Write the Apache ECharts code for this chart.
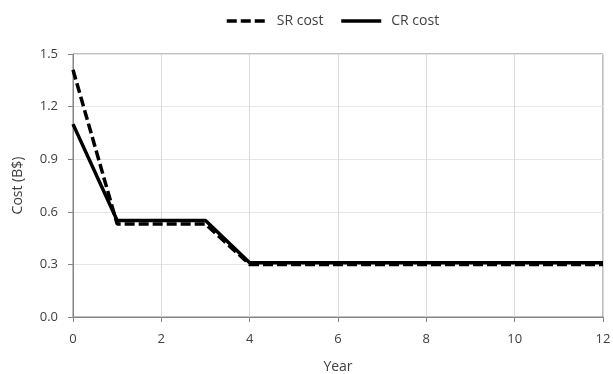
<!DOCTYPE html>
<html>
<head>
<meta charset="utf-8">
<script src="https://cdn.jsdelivr.net/npm/echarts@6/dist/echarts.min.js"></script>
<style>
  html, body { margin: 0; padding: 0; background: #fff; }
  #chart { width: 613px; height: 374px; }
</style>
</head>
<body>
<div id="chart"></div>
<script>
// Annual cost by year, billions of dollars
const years = [0, 1, 2, 3, 4, 5, 6, 7, 8, 9, 10, 11, 12];
const srCost = [1.41, 0.53, 0.53, 0.53, 0.30, 0.30, 0.30, 0.30, 0.30, 0.30, 0.30, 0.30, 0.30];
const crCost = [1.10, 0.55, 0.55, 0.55, 0.31, 0.31, 0.31, 0.31, 0.31, 0.31, 0.31, 0.31, 0.31];
const seriesNames = ['SR cost', 'CR cost'];

const font = 'Open Sans, Liberation Sans, sans-serif';
const pairs = arr => years.map((y, i) => [y, arr[i]]);

const chart = echarts.init(document.getElementById('chart'), null, { renderer: 'canvas' });
chart.setOption({
  animation: false,
  backgroundColor: '#ffffff',
  legend: {
    top: 9,
    left: 220,
    itemWidth: 40,
    itemHeight: 12,
    itemGap: 16,
    itemStyle: { opacity: 0 },
    lineStyle: { width: 3.5 },
    textStyle: { fontFamily: font, fontSize: 14, color: '#404040', padding: [0, 0, 0, 5] },
    data: seriesNames
  },
  grid: {
    left: 73, right: 10, top: 54, bottom: 57,
    outerBoundsMode: 'none',
    containLabel: false,
    show: true, borderColor: '#7f7f7f', borderWidth: 1
  },
  xAxis: {
    type: 'value',
    min: 0, max: 12, interval: 2,
    name: 'Year',
    nameLocation: 'middle',
    nameGap: 43,
    nameTextStyle: { fontFamily: font, fontSize: 14, color: '#404040' },
    axisLine: { lineStyle: { color: '#868686' } },
    axisTick: { show: true, inside: false, length: 5, lineStyle: { color: '#868686' } },
    axisLabel: { fontFamily: font, fontSize: 13, color: '#404040', margin: 16 },
    splitLine: { show: true, lineStyle: { color: '#d9d9d9' } }
  },
  yAxis: {
    type: 'value',
    min: 0, max: 1.5, interval: 0.3,
    name: 'Cost (B$)',
    nameLocation: 'middle',
    nameGap: 48,
    nameTextStyle: { fontFamily: font, fontSize: 14, color: '#404040' },
    axisLine: { show: true, lineStyle: { color: '#868686' } },
    axisTick: { show: true, inside: false, length: 5, lineStyle: { color: '#868686' } },
    axisLabel: { fontFamily: font, fontSize: 13, color: '#404040', margin: 15, formatter: v => v.toFixed(1) },
    splitLine: { show: true, lineStyle: { color: '#e6e6e6' } }
  },
  series: [
    {
      name: seriesNames[0],
      type: 'line',
      data: pairs(srCost),
      symbol: 'none',
      lineStyle: { color: '#000', width: 3.5, type: [10, 4] },
      itemStyle: { color: '#000' },
      z: 3
    },
    {
      name: seriesNames[1],
      type: 'line',
      data: pairs(crCost),
      symbol: 'none',
      lineStyle: { color: '#000', width: 3.5, type: 'solid' },
      itemStyle: { color: '#000' },
      z: 4
    }
  ]
});
</script>
</body>
</html>
